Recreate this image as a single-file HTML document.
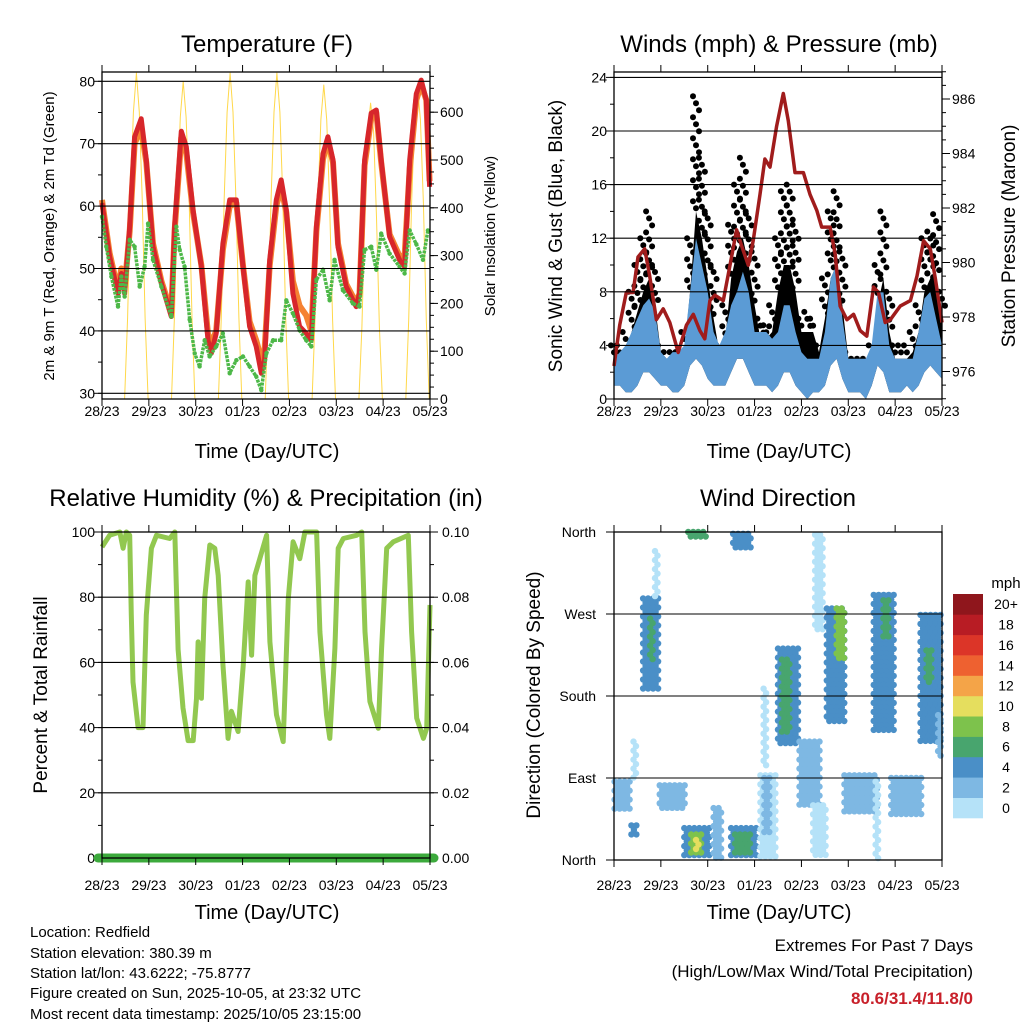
<!DOCTYPE html>
<html><head><meta charset="utf-8"><style>
body{margin:0;background:#fff;}
svg{display:block;font-family:"Liberation Sans",Arial,sans-serif;}
</style></head><body>
<svg id="fig" width="1024" height="1024" viewBox="0 0 1024 1024" xmlns="http://www.w3.org/2000/svg">
<rect x="0" y="0" width="1024" height="1024" fill="#fff"/>
<g id="p1"></g>
<g id="p2"></g>
<g id="p3"></g>
<g id="p4"></g>
<g id="texts" font-size="15">
<text x="267" y="52" font-size="24" text-anchor="middle">Temperature (F)</text>
<text x="779" y="52" font-size="24" text-anchor="middle">Winds (mph) &amp; Pressure (mb)</text>
<text x="266" y="506" font-size="24" text-anchor="middle">Relative Humidity (%) &amp; Precipitation (in)</text>
<text x="778" y="506" font-size="24" text-anchor="middle">Wind Direction</text>
<text x="267" y="458" font-size="20" text-anchor="middle">Time (Day/UTC)</text>
<text x="779" y="458" font-size="20" text-anchor="middle">Time (Day/UTC)</text>
<text x="267" y="919" font-size="20" text-anchor="middle">Time (Day/UTC)</text>
<text x="779" y="919" font-size="20" text-anchor="middle">Time (Day/UTC)</text>
<text transform="translate(54,236) rotate(-90)" font-size="15" text-anchor="middle">2m &amp; 9m T (Red, Orange) &amp; 2m Td (Green)</text>
<text transform="translate(495,236) rotate(-90)" font-size="15" text-anchor="middle">Solar Insolation (Yellow)</text>
<text transform="translate(562,236) rotate(-90)" font-size="19" text-anchor="middle">Sonic Wind &amp; Gust (Blue, Black)</text>
<text transform="translate(1015,236) rotate(-90)" font-size="19" text-anchor="middle">Station Pressure (Maroon)</text>
<text transform="translate(47,695) rotate(-90)" font-size="19" text-anchor="middle">Percent &amp; Total Rainfall</text>
<text transform="translate(540,695) rotate(-90)" font-size="19" text-anchor="middle">Direction (Colored By Speed)</text>
<text x="1006" y="588" font-size="15" text-anchor="middle">mph</text>
<text x="30" y="937">Location: Redfield</text>
<text x="30" y="958">Station elevation: 380.39 m</text>
<text x="30" y="978">Station lat/lon: 43.6222; -75.8777</text>
<text x="30" y="998">Figure created on Sun, 2025-10-05, at 23:32 UTC</text>
<text x="30" y="1019">Most recent data timestamp: 2025/10/05 23:15:00</text>
<text x="973" y="951" font-size="17" text-anchor="end">Extremes For Past 7 Days</text>
<text x="973" y="977" font-size="17" text-anchor="end">(High/Low/Max Wind/Total Precipitation)</text>
<text x="973" y="1004" font-size="17" font-weight="bold" fill="#c8202a" text-anchor="end">80.6/31.4/11.8/0</text>
</g>
</svg>
<script>
// ---------- data ----------
const DAY_LABELS=["28/23","29/23","30/23","01/23","02/23","03/23","04/23","05/23"];
const T_TIME=[0,3.9,8.2,9.9,11.6,14.2,16.7,20.1,22.7,26.1,30.4,35.5,37.2,40.6,43.2,46.6,50.9,54.3,56,58.5,61.9,65.4,68.8,72.2,75.6,79,81.6,83.3,85.9,89.3,91.8,94.4,97.8,101.2,104.6,107.2,109.8,113.2,115.7,118.3,120.9,125.1,130.2,131.9,134.5,137.9,140.5,143,147.3,152.4,155,157.6,161,163.5,166.1,167.8];
const T_RED=[60.5,51.9,46,49.2,46,56.7,71.1,74,67.4,53.5,47.6,42.3,56.7,72,69.5,59.4,50.3,38.5,36.4,39.6,54,61,61,50.3,40.7,37.5,33.2,35.3,51.4,61,64.2,59.4,46,40.7,39.6,38.5,56.7,68.4,71.1,67.4,53.5,47.1,43.9,46,67.4,74.9,75.4,67.4,55.1,51.4,50.3,67.4,78,80.2,77,63.1];
const T_ORANGE=[61,52.5,46.5,50,47,56,70,72.5,67,54,48,43,56,71,68.5,59,50.5,39.5,38,40,53,60,60.5,50.5,41.5,38.5,35.5,37,50.5,60,63,59,48,44,42.5,40,56,67.5,70.5,67,54,47.5,44.5,46,66.5,74,75,67,55.5,52,52,66,77,79.5,77,64];
const TD_TIME=[0,2.2,4.8,8.2,9.9,11.6,14.2,16.7,19.3,21.8,23.6,26.1,30.4,35.5,38.1,39.8,42.3,44.9,47.5,50,52.6,55.1,58.5,61.9,65.4,68.8,72.2,75.6,79,81.6,84.2,87.6,91.8,94.4,97.8,101.2,104.6,107.2,109.8,113.2,116.6,119.1,123.4,128.5,131.9,134.5,137.9,140.5,143,147.3,152.4,155,157.6,161,164.4,166.9];
const TD_VAL=[58.3,53.5,48.7,43.9,48.7,45.5,54.6,53.5,47.1,50.3,57.2,51.4,47.1,42.3,56.7,53,50.3,41.8,36.4,34.3,38.5,35.9,37.5,39.6,33.2,35.3,35.9,34.3,32.7,30.5,36.4,38.5,38.5,44.9,42.8,40.1,38.5,37.5,48.2,49.8,44.9,51.4,46.5,44.4,43.9,53,53.5,49.8,55.6,52.4,50.3,49.2,56.1,53.9,51.4,56.1];
const SOLAR_TIME=[0,11.6,13.1,14.6,16.1,17.6,19.1,20.6,22.1,23.6,35.6,37.1,38.6,40.1,41.6,43.1,44.6,46.1,47.6,59.6,61.1,62.6,64.1,65.6,67.1,68.6,70.1,71.6,83.6,85.1,86.6,88.1,89.6,91.1,92.6,94.1,95.6,107.6,109.1,110.6,112.1,113.6,115.1,116.6,118.1,119.6,131.6,133.1,134.6,136.1,137.6,139.1,140.6,142.1,143.6,155.6,157.1,158.6,160.1,161.6,163.1,164.6,166.1,167.6];
const SOLAR_VAL=[0,0,170,420,600,682,600,420,170,0,0,170,420,590,664,590,420,170,0,0,170,420,600,682,600,420,170,0,0,170,420,600,682,600,420,170,0,0,165,410,585,657,585,410,165,0,0,150,380,560,619,560,380,150,0,0,165,410,585,654,585,410,165,0];
const W_TIME=[0,3,6,9,12,15,18,21,24,27,30,33,36,39,42,45,48,51,54,57,60,63,66,69,72,75,78,81,84,87,90,93,96,99,102,105,108,111,114,117,120,123,126,129,132,135,138,141,144,147,150,153,156,159,162,165,168];
const WIND_HI=[3,3.5,4,5,6,7,7.5,6.5,3.5,3,3.5,3.5,4,8,12,10,8,5,4,5,7,8,9.5,8,5,5,5,4.5,5,7,7,5,3.5,3,3,3,5,9,10,6,3,3,3,3,4,8,8,4,3,3,3,3,5,7.5,8,6,4];
const WIND_LO=[1,1,0.5,0.5,1,2,2,1.5,1,1,0.5,0.5,1,2.5,3,2.5,1.5,1,1,1,2,3,3,2,1,1,1,0.5,1,2,2,1,0.5,0,0.5,0.5,1,2.5,3,1.5,0.5,0.5,0.5,0,1,2.5,2,0.5,0.5,0.5,1,0.5,1,2,2.5,2,1.5];
const GUST_DENSE=[3,3,3.5,5,6.5,8,9,7,3.5,3,3,3,3.5,8,14,12,9,6,3.5,4.5,9,11,12,10,7,4.5,4.5,5,8,10,10,8,5,5,5,3.5,6,9,10,7,3,2.5,2.5,2.5,3.5,7,9,5,3,3,3,3.5,5,8,9,9,6];
const GUST_HI=[4,4,5,8,10,12,14,10,4,3.5,3.5,3.5,5,12,22.6,18,14,10,4,7,13,16,18,14,11,6,5.5,7,12,15.5,16,13,6,6.5,6,4,9,14,15.5,11,3.5,3,3,3,4,10,14,8,4,4,4,5,7,12,12.5,13.8,8];
const P_TIME=[0,2.9,6.3,9.8,12.3,15.7,18.3,21.7,25.2,28.6,32.9,37.1,40.6,44,46.5,49.1,51.7,56,59.4,62.8,65.4,68.8,71.3,74.8,77.3,79.9,83.3,86.7,89.3,92.7,97,100.4,103.9,106.4,110.7,113.3,115.8,119.3,122.7,126.1,129.5,132.9,135.5,138.9,141.5,146.6,151.8,155.2,158.6,162,164.6,168];
const P_VAL=[976.2,977.7,978.9,978.9,980.2,980.5,979.5,977.9,978.3,977.8,976.7,977.7,978.1,977.5,977.2,978.6,978.8,978.6,979.9,981.2,980.6,979.9,980.8,982.5,983.8,983.5,985,986.2,985.2,983.3,983.3,982.5,981.9,981.3,981.3,980.3,978.4,977.9,978.1,977.5,977.3,979.1,978.9,977.8,977.9,978.4,978.6,979.5,980.8,980.5,979.4,977.8];
const RH_TIME=[0,3.9,9.1,10.8,12.5,14.2,15,15.9,18.5,21,22.7,25.3,27.9,34.7,37.3,39,41.5,44.1,46.7,48.4,49.2,50.9,52.6,55.2,57.8,59.5,62,64.6,66.3,69.7,72.3,74.9,76.6,78.3,80.8,84.3,86,89.4,92.8,95.4,97.9,101.3,103.9,109.9,111.6,115,116.7,119.3,121,123.6,130.4,133,134.7,137.2,141.5,143.2,145.8,149.2,156.9,158.6,161.2,164.6,166.3,168];
const RH_VAL=[95.4,99,100,95,100,99,74.5,54,40,40,74.5,95,99,98,100,64,46,36,36,49,66.3,49,79.6,96,95,86.7,59,36.7,45,38.8,59,84.7,62.2,86.7,91.8,99,66.3,43.9,35.7,79.6,97,91.8,100,100,69.4,43.9,36.7,64.3,95,98,99,100,69.4,48,39.8,64.3,95,97,99,69.4,42.9,36.7,39.8,77.6];
const PRECIP_TIME=[0,168];
const PRECIP_VAL=[0,0];
// wind direction clusters: start hour, end hour, low dir, high dir, speed
const DIR_T0=[0.3,8.9,10,14.9,18.5,21,23.4,36,39.5,42,51,60,62,38,61,75,77,76.6,84,86,95,103,109,114,118,133,138,142,157,160,134,102,166];
const DIR_T1=[8.9,11.5,12,22.6,20.5,22.5,37,49,45,44,56,73,70,47.4,71,83,80,78,95,91,105.5,108,119,118,135,144,141,158,168,163,136,109,168];
const DIR_LO=[53,26,86,185,220,287,57,2,8,10,2,2,5,353,339,2,30,100,126,140,60,250,148,220,49,141,245,49,126,195,2,5,112];
const DIR_HI=[86,38,130,287,265,339,82,35,28,22,57,35,28,360,358,93,90,188,232,220,130,357,276,276,93,291,285,90,269,230,86,60,159];
const DIR_SPD=[3,5,1,5,7,1,3,5,9,11,3,5,7,7,5,1,3,1,5,7,3,1,5,9,3,5,7,3,5,7,1,1,3];
const CB_LABELS=["0","2","4","6","8","10","12","14","16","18","20+"];
const CB_COLORS=["#b5e2f8","#7eb8e3","#4a8fc7","#48a56e","#7dc24c","#e5de5e","#f4a448","#ee6130","#dc3528","#b81c24","#8f161c"];

// ---------- helpers ----------
const NS="http://www.w3.org/2000/svg";
function mk(tag,attrs,parent){const e=document.createElementNS(NS,tag);for(const k in attrs)e.setAttribute(k,attrs[k]);parent.appendChild(e);return e;}
function pathD(ts,vs,xf,yf){let d="";for(let i=0;i<ts.length;i++)d+=(i?"L":"M")+xf(ts[i]).toFixed(1)+","+yf(vs[i]).toFixed(1);return d;}
function bandD(ts,lo,hi,xf,yf){let d="";for(let i=0;i<ts.length;i++)d+=(i?"L":"M")+xf(ts[i]).toFixed(1)+","+yf(hi[i]).toFixed(1);for(let i=ts.length-1;i>=0;i--)d+="L"+xf(ts[i]).toFixed(1)+","+yf(lo[i]).toFixed(1);return d+"Z";}

const PANELS={
 p1:{x0:102,x1:430,y0:72,y1:399},
 p2:{x0:614,x1:942,y0:72,y1:399},
 p3:{x0:102,x1:430,y0:532,y1:858},
 p4:{x0:614,x1:942,y0:532,y1:860}
};
function xs(P){return h=>P.x0+h/168*(P.x1-P.x0);}

function frame(g,P,labelY){
 const xf=xs(P);
 const r=mk("rect",{x:P.x0,y:P.y0,width:P.x1-P.x0,height:P.y1-P.y0,fill:"none",stroke:"#000","stroke-width":1.3},g);
 
 
 for(let d=0;d<=7;d++){
  const x=xf(d*24);
  const tb=mk("line",{x1:x,x2:x,y1:P.y1,y2:P.y1+7,stroke:"#000","stroke-width":1},g);
  
  
  const tt=mk("line",{x1:x,x2:x,y1:P.y0,y2:P.y0-7,stroke:"#000","stroke-width":1},g);
  
  
  const t=mk("text",{x:x,y:labelY,"font-size":14,"text-anchor":"middle"},g);
  
  
  t.textContent=DAY_LABELS[d];
 }
}
function yAxis(g,P,yf,vals,labels,minor,side,grid,lx){
 const x=side==="l"?P.x0:P.x1, dir=side==="l"?-1:1;
 for(const m of minor){
  const y=yf(m);
  const l=mk("line",{x1:x,x2:x+dir*4,y1:y,y2:y,stroke:"#000","stroke-width":1},g);
  
  
 }
 vals.forEach((v,i)=>{
  const y=yf(v);
  const l=mk("line",{x1:x,x2:x+dir*8,y1:y,y2:y,stroke:"#000","stroke-width":1},g);
  
  
  if(grid){
   const gl=mk("line",{x1:P.x0,x2:P.x1,y1:y,y2:y,stroke:"#000","stroke-width":1.1},g);
   
   
  }
  const t=mk("text",{x:lx,y:y+5,"font-size":14,"text-anchor":side==="l"?"end":"start"},g);
  
  
  t.textContent=labels[i];
 });
}
function range(a,b,s){const r=[];for(let v=a;v<=b+1e-9;v+=s)r.push(+v.toFixed(3));return r;}

// ---------- panel 1 ----------
(function(){
 const P=PANELS.p1,g=document.getElementById("p1"),xf=xs(P);
 const yT=v=>81.3+(80-v)*6.24, yS=v=>399-v*0.478;
 const sol=mk("path",{d:pathD(SOLAR_TIME,SOLAR_VAL,xf,yS),fill:"none",stroke:"#ffd84a","stroke-width":1,"stroke-linejoin":"round"},g);
 
 
 const o=mk("path",{d:pathD(T_TIME,T_ORANGE,xf,yT),fill:"none",stroke:"#f58232","stroke-width":6,"stroke-linejoin":"round"},g);
 
 
 const r=mk("path",{d:pathD(T_TIME,T_RED,xf,yT),fill:"none",stroke:"#d7262b","stroke-width":5,"stroke-linejoin":"round"},g);
 
 
 const gr=mk("path",{d:pathD(TD_TIME,TD_VAL,xf,yT),fill:"none",stroke:"#4db848","stroke-width":3.5,"stroke-dasharray":"3 1","stroke-linejoin":"round"},g);
 
 
 TD_TIME.forEach((t,i)=>{
  const c=mk("circle",{cx:xf(t),cy:yT(TD_VAL[i]),r:2.2,fill:"#4db848"},g);
  
  
 });
 yAxis(g,P,yT,range(30,80,10),["30","40","50","60","70","80"],range(30,80,5),"l",true,95);
 yAxis(g,P,yS,range(0,600,100),["0","100","200","300","400","500","600"],range(0,675,25),"r",false,440);
 frame(g,P,416);
})();

// ---------- panel 2 ----------
(function(){
 const P=PANELS.p2,g=document.getElementById("p2"),xf=xs(P);
 const yW=v=>399-v*13.4, yP=v=>99+(986-v)*27.25;
 const gb=mk("path",{d:bandD(W_TIME,WIND_LO,GUST_DENSE,xf,yW),fill:"#000"},g);
 
 
 W_TIME.forEach((t,i)=>{
  const x=xf(t), yLo=yW(GUST_DENSE[i]), yHi=yW(GUST_HI[i]);
  let k=0;
  for(let y=yHi;y<=yLo;y+=7,k++){
   const c=mk("circle",{cx:(x+((k%3)-1)*3).toFixed(1),cy:y.toFixed(1),r:3,fill:"#000"},g);
   
   
  }
 });
 const wb=mk("path",{d:bandD(W_TIME,WIND_LO,WIND_HI,xf,yW),fill:"#5b9bd5"},g);
 
 
 const pl=mk("path",{d:pathD(P_TIME,P_VAL,xf,yP),fill:"none",stroke:"#a01c1c","stroke-width":3.5,"stroke-linejoin":"round"},g);
 
 
 yAxis(g,P,yW,range(0,24,4),["0","4","8","12","16","20","24"],range(0,24,2),"l",true,607);
 yAxis(g,P,yP,range(976,986,2),["976","978","980","982","984","986"],range(975,987,0.5),"r",false,952);
 frame(g,P,416);
})();

// ---------- panel 3 ----------
(function(){
 const P=PANELS.p3,g=document.getElementById("p3"),xf=xs(P);
 const yR=v=>858-v*3.26, yPr=v=>858-v*3260;
 const rh=mk("path",{d:pathD(RH_TIME,RH_VAL,xf,yR),fill:"none",stroke:"#92c850","stroke-width":5,"stroke-linejoin":"round"},g);
 
 
 yAxis(g,P,yR,range(0,100,20),["0","20","40","60","80","100"],range(0,100,10),"l",true,95);
 yAxis(g,P,yPr,range(0,0.1,0.02),["0.00","0.02","0.04","0.06","0.08","0.10"],range(0,0.1,0.01),"r",false,442);
 const pr=mk("path",{d:pathD(PRECIP_TIME,PRECIP_VAL,h=>P.x0-4+h/168*(P.x1-P.x0+8),yPr),fill:"none",stroke:"#3caa3c","stroke-width":9,"stroke-linecap":"round"},g);
 
 
 frame(g,P,890);
})();

// ---------- panel 4 ----------
(function(){
 const P=PANELS.p4,g=document.getElementById("p4"),xf=xs(P);
 const yD=v=>860-v*0.9111;
 const col=s=>CB_COLORS[Math.min(10,Math.floor(s/2))];
 for(let i=0;i<DIR_T0.length;i++){
  const xa=xf(DIR_T0[i]),xb=xf(DIR_T1[i]),ya=yD(DIR_HI[i]),yb=yD(DIR_LO[i]);
  let row=0;
  for(let y=ya;y<=yb+0.1;y+=4.5,row++){
   for(let x=xa+(row%2)*2.5;x<=xb+0.1;x+=5){
    const c=mk("circle",{cx:x.toFixed(1),cy:y.toFixed(1),r:3.2,fill:col(DIR_SPD[i])},g);
    
    
   }
  }
 }
 yAxis(g,P,yD,[0,90,180,270,360],["North","East","South","West","North"],[],"l",true,596);
 frame(g,P,890);
 const cb0=594,cbh=224/11;
 CB_COLORS.forEach((c,i)=>{
  const y=cb0+(10-i)*cbh;
  const r=mk("rect",{x:953,y:y.toFixed(1),width:30,height:(cbh+0.3).toFixed(1),fill:c},g);
  
  
  const t=mk("text",{x:1006,y:(y+cbh/2+5).toFixed(1),"font-size":14,"text-anchor":"middle"},g);
  
  
  t.textContent=CB_LABELS[i];
 });
})();
</script>
</body></html>
